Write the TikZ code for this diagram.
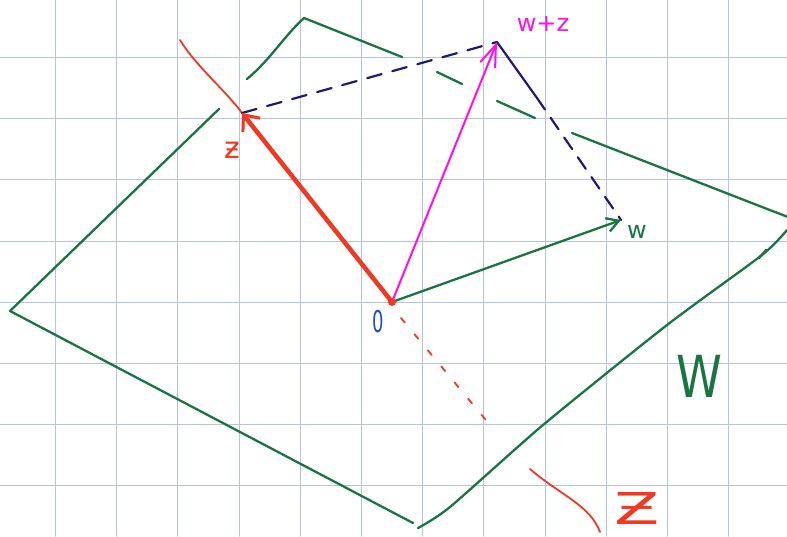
\documentclass[tikz,border=0pt]{standalone}
\usepackage{fontspec}
\setmainfont{DejaVu Sans}
\usetikzlibrary{arrows.meta}
\definecolor{gridc}{HTML}{B7C4DD}
\definecolor{grn}{HTML}{1B7542}
\definecolor{rd}{HTML}{EE3A24}
\definecolor{mag}{HTML}{FF10E8}
\definecolor{nvy}{HTML}{1C1C78}
\definecolor{blu}{HTML}{2050C0}
\begin{document}
\begin{tikzpicture}[x=1pt,y=-1pt,line cap=round,line join=round,
  gridline/.style={gridc,line width=1.1pt},
  grnline/.style={grn,line width=2.3pt},
  redthin/.style={rd,line width=1.8pt},
  redthick/.style={rd,line width=4.5pt},
  magline/.style={mag,line width=2pt},
  navyline/.style={nvy,line width=2.2pt},
  lbl/.style={inner sep=0pt,anchor=center}]
\useasboundingbox (0,0) rectangle (787,536);
\fill[white] (0,0) rectangle (787,536);
\foreach \i in {0,...,11} \draw[gridline] ({55.5+61.2*\i},0) -- ++(0,536);
\foreach \i in {0,...,7} \draw[gridline] (0,{57.5+61.2*\i}) -- ++(787,0);
% points
\coordinate (O) at (392,302);
\coordinate (z) at (242,113);
\coordinate (w) at (621,220);
\coordinate (wz) at (497,42);
% green region W
\draw[grnline] (219,109) -- (10,311) -- (413,523);
\draw[grnline] plot[smooth,tension=0.4] coordinates {(418,528) (450,507) (543,425) (667,325) (762,255) (787,230)};
\draw[grnline] (759,258) -- (766,250);
\draw[grnline] (247,79) .. controls (270,60) and (285,35) .. (304,18) -- (402,57);
\draw[grnline] (437,72) -- (462,84);
\draw[grnline] (497,101) -- (535,118);
\draw[grnline] (572,133) -- (762,207) -- (788,217);
% red line Z
\draw[redthin] (180,40) .. controls (195,65) and (225,90) .. (z);
\draw[redthin,dash pattern=on 6pt off 15pt] (401,318) -- (490,425);
\draw[redthin] (530,469) .. controls (560,495) and (590,505) .. (600,532);
% navy dashed parallelogram sides
\draw[navyline,dash pattern=on 15pt off 11pt] (z) -- (wz);
\draw[navyline] (wz) -- (537,98);
\draw[navyline,dash pattern=on 14pt off 10pt] (537,98) -- (w);
% vectors
\draw[redthick,-{Straight Barb[length=13pt,width=22pt,line width=3pt]}] (O) -- (z);
\draw[magline,-{Straight Barb[length=22pt,width=16pt,line width=2pt]}] (O) -- (wz);
\draw[grnline,-{Straight Barb[length=12pt,width=14pt,line width=2.3pt]}] (O) -- (w);
\fill[rd] (O) circle (4pt);
% labels
\node[lbl,text=mag,font=\fontsize{24}{28}\selectfont] (lwz) at (543,24) {w+z};
\node[lbl,text=rd,font=\fontsize{30}{34}\selectfont] (lz) at (232,150) {ƶ};
\node[lbl,text=grn,font=\fontsize{24}{28}\selectfont] (lw) at (637,232) {w};
\node[lbl,text=blu,font=\fontsize{30}{34}\selectfont,xscale=0.6] (l0) at (378,322) {0};
\node[lbl,text=grn,font=\fontsize{58}{62}\selectfont,xscale=0.8] (lW) at (699,376) {W};
\node[lbl,text=rd,font=\fontsize{44}{48}\selectfont,xscale=1.5] (lZ) at (637,508) {Ƶ};
\end{tikzpicture}
\end{document}
